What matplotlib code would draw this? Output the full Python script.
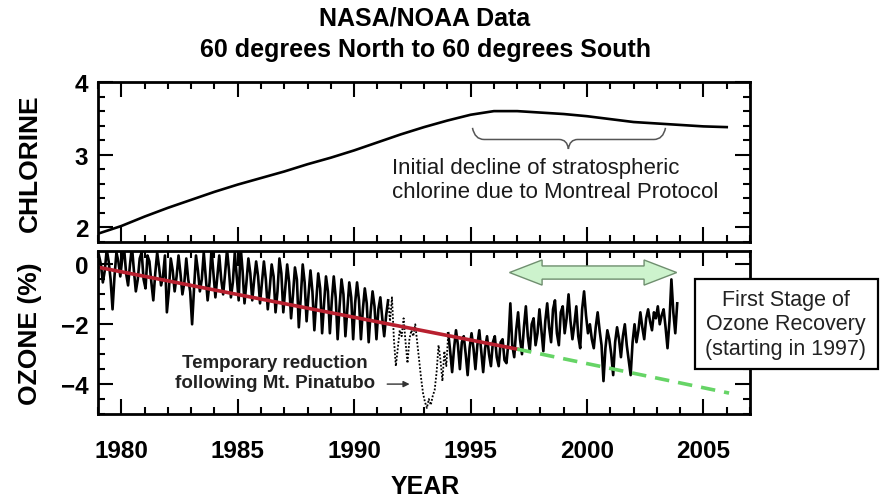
import numpy as np
import matplotlib.pyplot as plt
from matplotlib.path import Path
from matplotlib.patches import PathPatch, Polygon, Rectangle

plt.rcParams['font.family'] = ['Liberation Sans', 'DejaVu Sans']

# chlorine (upper panel)
cl_years = [1979.05, 1980, 1981, 1982, 1983, 1984, 1985, 1986, 1987, 1988, 1989, 1990,
            1991, 1992, 1993, 1994, 1995, 1996, 1997, 1998, 1999, 2000, 2001, 2002,
            2003, 2004, 2005, 2006]
cl_vals = [1.92, 2.02, 2.15, 2.27, 2.38, 2.49, 2.59, 2.68, 2.77, 2.87, 2.96, 3.06,
           3.17, 3.28, 3.38, 3.47, 3.55, 3.60, 3.60, 3.58, 3.56, 3.53, 3.49, 3.45,
           3.43, 3.41, 3.39, 3.38]

# monthly ozone anomaly (%), Jan 1979 onwards
ozone_start = 1979.04
ozone = [
    0.3, 0.0, -0.6, -0.2, 0.5, 0.1, -0.5, -1.5, -0.4, 0.4, 0.1, -0.4,       # 1979
    0.2, 0.5, -0.3, -0.7, 0.0, 0.6, -0.2, -0.9, -0.5, 0.2, 0.4, -0.5,       # 1980
    -0.8, 0.3, 0.1, -0.6, -1.2, -0.3, 0.4, -0.1, -0.7, -0.4, 0.3, -1.6,     # 1981
    -0.9, 0.2, -0.2, -0.9, -0.4, 0.3, -0.3, -1.0, -0.6, 0.2, -0.5, -0.9,    # 1982
    -2.0, -0.8, 0.3, -0.2, -0.9, -0.5, 0.4, -0.4, -1.2, -0.6, 0.5, -0.3,    # 1983
    -1.1, -0.4, 0.3, -0.5, -1.0, -0.3, 0.5, -0.2, -1.1, -0.6, 0.4, -0.4,    # 1984
    -1.2, 0.6, -0.2, -1.3, -0.6, 0.2, -0.3, -1.2, -0.5, 0.1, -0.4, -1.3,    # 1985
    -0.6, 0.1, -0.5, -1.5, -0.8, 0.0, -0.4, -1.6, -0.9, 0.2, -0.3, -1.6,    # 1986
    -0.8, 0.0, -0.6, -1.8, -1.0, -0.1, -0.5, -2.1, -1.1, 0.0, -0.6, -1.9,   # 1987
    -1.0, -0.2, -0.9, -2.2, -1.2, -0.3, -0.8, -2.3, -1.3, -0.4, -0.9, -2.3, # 1988
    -1.2, -0.4, -1.1, -2.5, -1.4, -0.5, -1.0, -2.4, -1.5, -0.6, -1.1, -2.5, # 1989
    -1.3, -0.6, -1.2, -2.5, -1.5, -0.8, -1.3, -2.6, -1.6, -0.9, -1.4, -2.5, # 1990
    -1.5, -1.1, -1.8, -2.4, -1.7, -1.2, -1.9, -1.1, -2.5, -3.4, -2.8, -2.2, # 1991
    -2.4, -1.8, -2.6, -3.3, -2.5, -2.2, -2.4, -2.0, -2.6, -3.2, -3.8, -4.3, # 1992
    -4.6, -4.8, -4.5, -4.7, -4.4, -4.2, -3.6, -2.7, -3.2, -3.9, -2.9, -3.4, # 1993
    -2.3, -2.9, -3.6, -2.8, -2.2, -2.7, -3.5, -2.6, -2.4, -3.0, -3.7, -2.8, # 1994
    -2.3, -2.8, -3.5, -2.7, -2.2, -2.9, -3.6, -2.8, -2.4, -3.0, -3.4, -2.6, # 1995
    -2.4, -3.1, -3.4, -2.6, -2.5, -3.2, -3.3, -2.6, -1.3, -2.7, -3.1, -2.2, # 1996
    -1.6, -2.5, -3.0, -2.1, -1.4, -2.4, -2.9, -2.0, -1.8, -2.7, -2.3, -1.5, # 1997
    -2.2, -2.9, -1.9, -1.3, -2.1, -2.6, -1.5, -1.2, -2.3, -2.7, -1.6, -1.4, # 1998
    -2.3, -1.8, -1.0, -1.9, -2.5, -2.0, -1.4, -2.4, -2.8, -1.5, -0.9, -1.7, # 1999
    -2.3, -2.0, -2.5, -2.8, -2.1, -1.6, -2.2, -2.7, -3.9, -2.8, -2.2, -2.5, # 2000
    -3.0, -3.7, -2.6, -2.1, -2.5, -3.1, -2.4, -2.0, -2.7, -3.2, -3.7, -2.6, # 2001
    -2.0, -2.6, -2.2, -1.6, -2.1, -2.5, -1.8, -1.5, -1.9, -2.2, -1.6, -1.8, # 2002
    -1.4, -2.0, -1.7, -1.5, -2.1, -2.8, -1.9, -0.5, -1.6, -2.3, -1.3,       # 2003
]
pinatubo_start, pinatubo_end = 1991.5, 1994.0

# trend lines
trend_years = [1979.05, 1997.0]
trend_vals = [-0.1, -2.83]
proj_years = [1997.0, 2006.1]
proj_vals = [-2.83, -4.3]

xticks = [1980, 1985, 1990, 1995, 2000, 2005]

fig = plt.figure(figsize=(8.8, 5.02), dpi=100)
ax1 = fig.add_axes([0.1114, 0.5159, 0.7409, 0.3187])
ax2 = fig.add_axes([0.1114, 0.1733, 0.7409, 0.3247])

for ax in (ax1, ax2):
    ax.set_xlim(1979.05, 2007.0)
    ax.set_xticks(xticks)
    ax.set_xticks(np.arange(1979, 2008), minor=True)
    ax.tick_params(which='both', direction='in', top=True, right=True, width=1.5)
    ax.tick_params(which='major', length=11)
    ax.tick_params(which='minor', length=5)
    ax.tick_params(labelsize=17.5)
    for s in ax.spines.values():
        s.set_linewidth(2)
    for lab in ax.get_xticklabels() + ax.get_yticklabels():
        lab.set_fontweight('bold')

# upper panel
ax1.plot(cl_years, cl_vals, color='black', lw=1.9)
ax1.set_ylim(1.82, 4.0)
ax1.set_yticks([2, 3, 4])
ax1.set_yticks(np.arange(1.8, 4.01, 0.2), minor=True)
ax1.tick_params(labelbottom=False, pad=7)
ax1.text(1991.62, 2.66, 'Initial decline of stratospheric\nchlorine due to Montreal Protocol',
         fontsize=16, ha='left', va='center', linespacing=1.15, color='#1a1a1a')

# curly brace under the chlorine plateau
bx0, bx1, bm = 1995.08, 2003.37, 1999.2
by0, by1, btip = 3.37, 3.21, 3.08
verts = [(bx0, by0), (bx0 + 0.1, by1), (bx0 + 0.5, by1),
         (bm - 0.4, by1), (bm - 0.05, by1), (bm, btip),
         (bm + 0.05, by1), (bm + 0.4, by1),
         (bx1 - 0.5, by1), (bx1 - 0.1, by1), (bx1, by0)]
codes = [Path.MOVETO, Path.CURVE3, Path.CURVE3,
         Path.LINETO, Path.CURVE3, Path.CURVE3,
         Path.CURVE3, Path.CURVE3,
         Path.LINETO, Path.CURVE3, Path.CURVE3]
ax1.add_patch(PathPatch(Path(verts, codes), fill=False, edgecolor='#555555', lw=1.1))

# lower panel
t = ozone_start + np.arange(len(ozone)) / 12
oz = np.array(ozone)
solid = np.where((t <= pinatubo_start) | (t >= pinatubo_end), oz, np.nan)
dotted = np.where((t >= pinatubo_start - 0.05) & (t <= pinatubo_end + 0.05), oz, np.nan)
ax2.plot(t, solid, color='black', lw=1.9)
ax2.plot(t, dotted, color='black', lw=1.3, ls=(0, (1, 1)))
ax2.plot(trend_years, trend_vals, color='#b8202f', lw=2.6)
ax2.plot(proj_years, proj_vals, color='#66d466', lw=2.6, ls=(0, (4, 2.5)))
ax2.set_ylim(-5.0, 0.45)
ax2.set_yticks([0, -2, -4])
ax2.set_yticks(np.arange(-5, 0.5, 0.5), minor=True)
ax2.tick_params(pad=7)
ax2.tick_params(axis='x', pad=18)

ax2.text(1986.6, -3.62, 'Temporary reduction\nfollowing Mt. Pinatubo', fontsize=13.5,
         fontweight='bold', ha='center', va='center', linespacing=1.2, color='#222222')
ax2.annotate('', xy=(1992.5, -4.0), xytext=(1991.3, -4.0),
             arrowprops=dict(arrowstyle='-|>', color='#333333', lw=1, mutation_scale=9))

# green double arrow over the recovery period
ax0, axe, yc = 1996.67, 2003.85, -0.27
head, hh, sh = 1.4, 0.42, 0.22
arrow_pts = [(ax0, yc), (ax0 + head, yc + hh), (ax0 + head, yc + sh),
             (axe - head, yc + sh), (axe - head, yc + hh), (axe, yc),
             (axe - head, yc - hh), (axe - head, yc - sh), (ax0 + head, yc - sh),
             (ax0 + head, yc - hh)]
ax2.add_patch(Polygon(arrow_pts, closed=True, facecolor='#cdf3cd',
                      edgecolor='#6f8f6f', lw=1, zorder=5))

# box outside the axes
fig.patches.append(Rectangle((0.790, 0.263), 0.208, 0.179, transform=fig.transFigure,
                             facecolor='white', edgecolor='black', lw=1.6, zorder=10))
fig.text(0.893, 0.3526, 'First Stage of\nOzone Recovery\n(starting in 1997)', fontsize=15.5,
         ha='center', va='center', linespacing=1.2, color='#222222', zorder=11)

fig.text(0.483, 0.964, 'NASA/NOAA Data', fontsize=18, fontweight='bold', ha='center', va='center')
fig.text(0.483, 0.900, '60 degrees North to 60 degrees South', fontsize=18, fontweight='bold',
         ha='center', va='center')
fig.text(0.034, 0.675, 'CHLORINE', fontsize=19, fontweight='bold', rotation=90,
         ha='center', va='center')
fig.text(0.034, 0.335, 'OZONE (%)', fontsize=19, fontweight='bold', rotation=90,
         ha='center', va='center')
fig.text(0.483, 0.03, 'YEAR', fontsize=18, fontweight='bold', ha='center', va='center')

fig.savefig('out.png', dpi=100)
